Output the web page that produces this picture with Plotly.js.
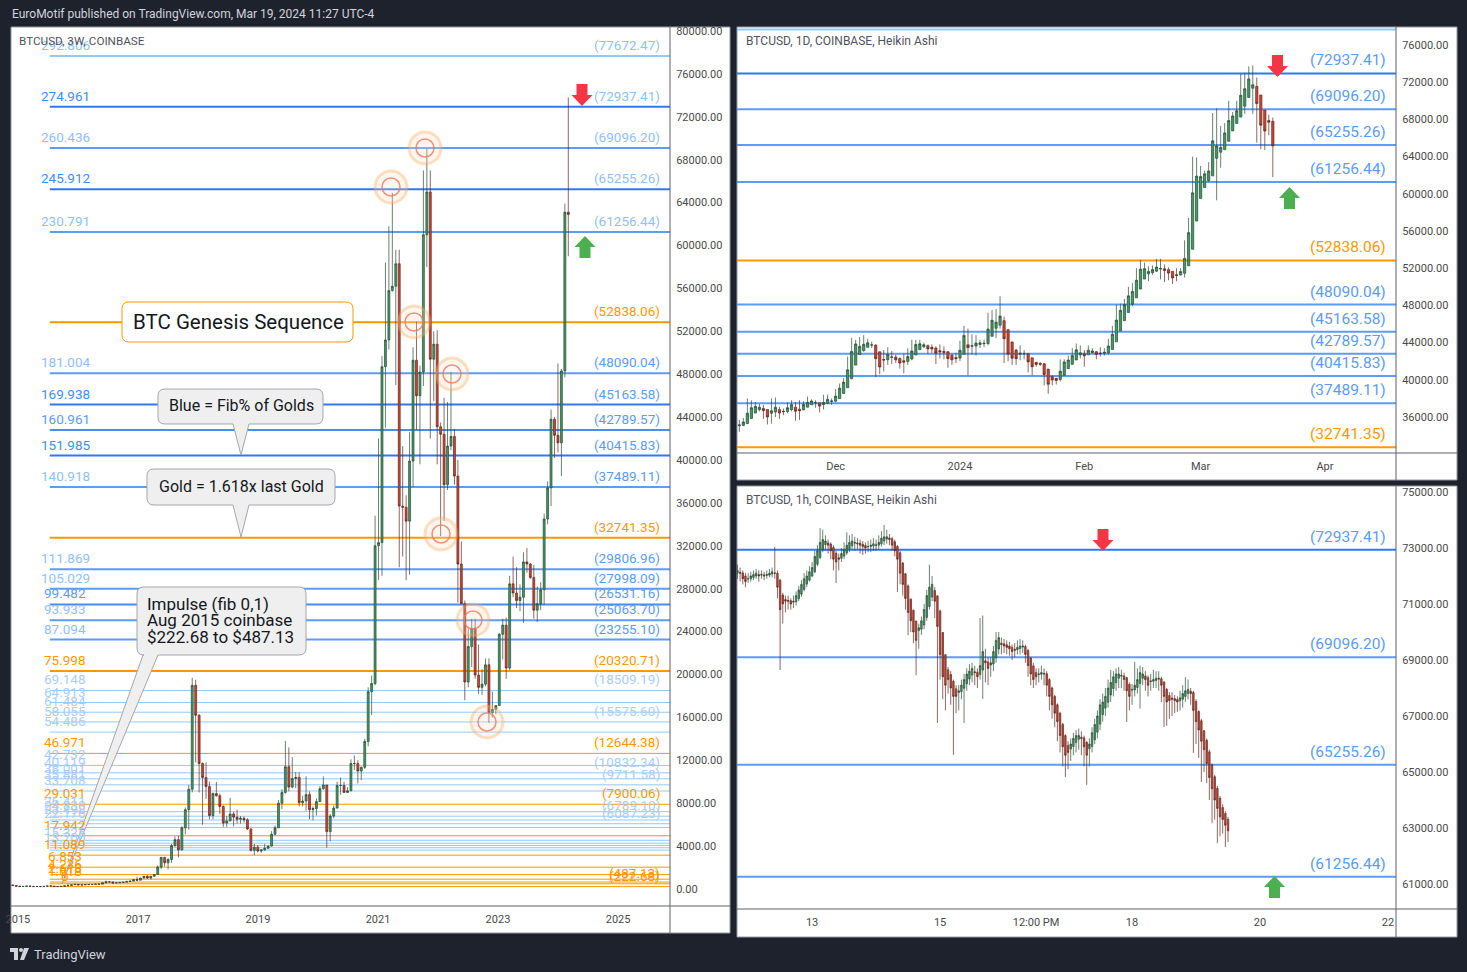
<!DOCTYPE html>
<html><head><meta charset="utf-8">
<script src="https://cdn.plot.ly/plotly-3.0.1.min.js"></script>
<style>html,body{margin:0;padding:0;background:#1e222d;overflow:hidden}#chart{width:1467px;height:972px}</style>
</head><body><div id="chart"></div>
<script>
// ===================== DATA =====================
// 3W candles (BTCUSD Coinbase), first bar opens 2014-12-01, one bar every 21 days
const w3Start = '2014-12-01';
const w3Open = [378,322,268,233,240,275,246,225,237,225,247,288,280,228,240,245,292,325,395,432,385,378,420,415,425,455,450,580,660,655,575,580,608,635,710,735,890,
820,1020,1180,1030,1190,1350,2050,2950,2450,2750,4050,4600,3650,5700,7400,9300,19000,16200,11700,10400,9550,6850,8900,8700,7700,6150,6350,7000,6700,6500,6600,6450,5600,3600,3900,3550,3650,3800,4000,5100,5700,8000,9000,11400,9500,10300,10400,8050,8200,8800,7400,7500,8150,9350,9700,5350,6800,7550,9650,9650,9000,9150,11700,11700,11000,11350,13750,18400,19150,32000,32300,48700,51200,55800,56200,58300,35700,35600,34300,39900,49300,46000,48200,61000,65000,49400,50800,43100,42400,37700,41300,42200,38500,30300,26600,19300,22600,24300,19950,18800,19100,20900,16450,16750,17100,23750,24600,20600,28450,27600,26900,27200,30500,30300,29050,26000,26600,27900,34500,37400,43800,42300,41600,48300,63100];
const w3High = [385,335,300,265,300,295,260,245,245,252,300,300,285,250,250,300,500,400,470,465,400,445,425,430,465,460,600,780,700,655,590,615,640,720,760,900,1150,
1040,1200,1290,1200,1360,2200,2990,2990,2900,4200,4900,4950,5850,7600,9700,19700,19500,16300,11800,11800,10000,9000,9980,8900,7800,6800,8500,7200,7400,6800,6750,6600,5650,4200,4100,3650,4200,4050,5400,5900,8300,9300,13800,13200,12300,10900,10900,8700,10500,9100,7700,8450,9600,10500,9700,7000,7800,10000,10400,10000,9500,12100,12450,12000,11400,14000,18800,19900,34800,42000,49700,58400,61800,64900,59600,59600,41300,36700,42600,50500,52900,48800,67000,69000,67000,52000,52100,43500,45800,45400,48200,42900,40000,32400,26900,24300,25200,25200,22800,20500,21500,21500,18400,17100,23900,25200,25300,29200,31000,30000,28400,31400,31800,30400,30200,28200,28600,35000,38000,44700,44000,49000,48500,63900,73800];
const w3Low = [310,262,165,212,235,240,215,215,220,218,245,260,195,225,225,240,290,315,380,355,365,375,400,410,420,440,450,540,640,480,560,570,605,630,690,730,750,
820,980,940,890,1160,1340,1850,2100,1830,2450,3900,2950,3600,5100,5550,9000,11800,9000,6000,8400,6500,6500,8600,7000,5800,5800,6300,5850,6100,6100,6200,5500,3500,3150,3400,3350,3550,3700,3950,5000,5700,7450,8900,9100,9400,9400,7700,7700,7300,6500,6400,6850,8100,9250,3850,4450,6600,7500,8800,8950,8950,9150,11100,9850,10150,11200,13300,16200,19000,28800,29200,43000,50300,55700,47000,30000,31000,28800,29300,37500,42800,39600,46900,58000,42000,45500,39600,32900,34300,37200,40900,37700,26700,26600,17600,18800,20700,19600,18200,18100,18900,15500,16000,16300,17100,21400,19600,20400,27200,26200,25900,24800,29500,28900,25200,24900,26000,26500,34000,35700,40200,40700,38500,47700,59000];
const w3Close = [322,268,233,240,275,246,225,237,225,247,288,280,228,240,245,292,325,395,432,385,378,420,415,425,455,450,580,660,655,575,580,608,635,710,735,890,820,
1020,1180,1030,1190,1350,2050,2950,2450,2750,4050,4600,3650,5700,7400,9300,19000,16200,11700,10400,9550,6850,8900,8700,7700,6150,6350,7000,6700,6500,6600,6450,5600,3600,3900,3550,3650,3800,4000,5100,5700,8000,9000,11400,9500,10300,10400,8050,8200,8800,7400,7500,8150,9350,9700,5350,6800,7550,9650,9650,9000,9150,11700,11700,11000,11350,13750,18400,19150,32000,32300,48700,51200,55800,56200,58300,35700,35600,34300,39900,49300,46000,48200,61000,65000,49400,50800,43100,42400,37700,41300,42200,38500,30300,26600,19300,22600,24300,19950,18800,19100,20900,16450,16750,17100,23750,24600,20600,28450,27600,26900,27200,30500,30300,29050,26000,26600,27900,34500,37400,43800,42300,41600,48300,63100,62900];

// 1D Heikin Ashi candles, first bar 2023-11-07, daily
const dStart = '2023-11-07';
const dOpen = [35050,35100,35290,35840,36420,36790,36920,36800,36400,36540,36800,36610,36590,36800,37060,36840,36760,37060,37320,37520,37520,37350,37450,37675,
37700,37975,38540,39145,40110,41580,42715,43160,43490,43730,43740,43010,42190,42160,42455,42440,42300,42050,41975,42240,42670,43235,43555,43665,43495,43410,43130,43065,43010,42640,42395,
42335,42755,43765,43610,43630,43790,43880,43900,44675,45540,45870,46360,45390,44070,43200,42740,42795,42800,42360,41880,41765,41720,41150,40340,40160,40040,40480,41200,41660,42130,42680,
42790,42680,42930,43015,42870,42850,42900,43260,44080,45250,46360,47230,48130,48815,49760,50830,51390,51520,51685,51905,51940,51845,51660,51300,51260,51450,52250,54040,57070,
59485,60670,61410,61930,63815,64480,64740,65645,66760,67570,68250,69425,70360,71355,71540,70620,69000,67875,67790];
const dHigh = [35700,35900,38000,37800,37600,37400,37300,36800,38000,38100,37100,36900,37600,37800,37600,37800,37700,38200,37900,37800,37520,38400,38400,38000,
39000,39600,40200,42500,44500,44300,44600,44800,44400,44100,43800,43010,43200,43500,43100,42700,42400,42800,43400,44300,44300,44300,44000,43800,43800,43600,43800,43600,43100,42800,42900,
44200,45800,45500,44900,44800,44300,44300,47200,47500,47600,49000,46800,45390,44070,43300,43700,43200,42900,42360,41900,41900,41800,41150,40500,40200,42200,42200,42600,43400,43900,43700,
43200,43700,43400,43100,43500,43400,44400,45800,48100,48200,48700,50000,50400,52000,52900,52600,52200,52300,53000,53000,52400,52100,51660,52000,52000,55000,57400,64000,63900,
63000,62500,63400,68700,69200,67300,67600,70000,68800,70000,72900,73000,73700,73800,72500,70620,69000,68500,68200];
const dLow = [34400,35000,35290,35840,36420,36600,35800,35200,35300,36000,35800,36200,36400,36600,35600,35700,36760,37060,37320,37000,36500,36800,37450,37300,
37600,37975,38540,39145,40110,41580,42700,43000,43490,43400,40300,40600,40900,41600,41700,41800,41200,40700,41600,42100,42670,43235,43400,42800,42900,41700,42300,42200,41300,41600,41800,
42000,42755,40500,42700,42600,43400,43500,43700,44675,44500,45500,41800,42000,41600,41600,42100,42200,40800,40500,41400,41500,39400,38500,39400,39500,39800,40480,41200,41660,42130,42300,
41400,42680,42800,42200,42500,42600,42700,43260,44080,45250,46360,47230,47900,48800,49760,50830,50600,51300,51600,50800,50500,50700,50300,50600,51260,51000,52250,54040,57070,
59485,60670,61300,61930,59300,62800,64740,65645,66760,67570,68250,68600,70360,68600,65500,64800,64700,66300,61800];
const dClose = [35150,35475,36400,37000,37150,37050,36675,36000,36675,37050,36425,36575,37000,37325,36625,36675,37350,37575,37725,37525,37175,37550,37900,37725,
38250,39100,39750,41075,43050,43850,43600,43825,43975,43750,42275,41375,42125,42750,42425,42150,41800,41900,42500,43100,43800,43875,43775,43325,43325,42850,43000,42950,42275,42150,42275,
43175,44775,43450,43650,43950,43975,43925,45450,46400,46200,46850,44425,42750,42325,42275,42850,42800,41925,41400,41650,41675,40575,39525,39975,39925,40925,41925,42125,42600,43225,42900,
42575,43175,43100,42725,42825,42950,43625,44900,46425,47475,48100,49025,49500,50700,51900,51950,51650,51850,52125,51975,51750,51475,50950,51225,51650,53050,55825,60100,61900,
61850,62150,62450,65700,65150,65000,66550,67875,68375,68925,70600,71300,72350,71725,69700,67375,66750,67700,65150];

// 1h Heikin Ashi candles, first bar 2024-03-11 20:00, hourly
const hStart = '2024-03-11T20:00';
const hOpen = [72100,72130,72110,72000,71900,71900,71950,72000,72050,72030,72040,72020,72030,72070,72110,72100,71850,71320,71160,71130,71120,71060,71080,71190,71350,71520,71710,71850,
72000,72150,72420,72660,72930,73120,73180,73140,73020,72810,72650,72630,72710,72830,72970,73080,73170,73180,73170,73130,73090,73050,73050,73070,
73110,73100,73150,73250,73320,73360,73330,73220,73060,72830,72460,72080,71640,71170,70780,70390,70050,70100,70250,70520,70910,71250,71480,71290,
70750,69980,69190,68650,68480,68240,67970,67840,67870,67990,68150,68320,68460,68580,68560,68480,68640,68970,68930,68820,68860,69080,69390,69600,
69580,69540,69500,69450,69380,69370,69410,69460,69480,69340,69070,68790,68550,68480,68490,68520,68510,68300,68000,67700,67400,67100,66700,66300,
65950,65820,65910,66050,66170,66240,66220,66060,65830,65910,66150,66420,66710,67050,67280,67490,67750,67980,68190,68350,68420,68430,68370,68130,
67920,67930,68020,68160,68350,68430,68370,68230,68240,68270,68310,68330,68210,67950,67730,67640,67620,67590,67540,67600,67700,67800,67880,67840,
67520,67160,66830,66470,66130,65720,65260,64830,64420,64060,63730,63520,63310];
const hHigh = [72400,72300,72200,72100,72100,72150,72200,72250,72200,72200,72150,72200,72250,72300,73040,72200,71900,71400,71300,71300,71200,71300,71450,71650,71850,72100,72200,72350,
72500,72900,73100,73710,73650,73450,73300,73200,73100,72900,72800,73000,73200,73560,73450,73500,73400,73350,73300,73250,73200,73250,73300,73350,
73300,73450,73600,73820,73650,73500,73400,73300,73100,72900,72500,72100,71700,71200,70800,70400,70300,70550,71000,71500,72400,72000,71600,71300,
70800,70000,69200,68750,68600,68300,68100,68100,68300,68500,68700,68850,68900,68800,68700,70500,70590,69400,69100,69100,69500,70000,70000,69800,
69750,69700,69650,69550,69600,69700,69750,69700,69550,69400,69100,68900,68700,68700,68800,68700,68600,68350,68050,67750,67450,67150,66750,66350,
66100,66200,66400,66500,66550,66450,66300,66100,66200,66600,66900,67200,67600,67800,68000,68300,68640,68600,68700,68750,68650,68550,68400,68200,
68150,68930,68700,68800,68750,68600,68450,68500,68650,68600,68600,68400,68250,68000,67850,67850,67750,67700,67900,68100,68390,68300,68000,67900,
67600,67200,66900,66500,66200,65800,65300,64900,64500,64150,63850,63600,63400];
const hLow = [71900,71800,71700,71600,71750,71800,71850,71900,71800,71900,71850,71900,71950,71950,71900,71200,68640,70300,70700,70800,70800,70850,70950,71100,71250,71450,71600,71800,
71950,72100,72350,72600,72850,72900,72800,72600,72200,71750,72200,72500,72600,72750,72850,72950,72900,72950,72800,72750,72800,72850,72850,72900,
72900,72950,73050,73100,73150,73100,72900,72700,71430,71700,71300,70800,69890,70000,69600,68460,69400,69900,70100,70400,70800,71100,70500,66750,
68300,67600,67200,67800,67400,65610,67100,67200,67600,66750,67900,68100,68200,68100,68000,68300,67610,68200,68100,68400,68600,68900,69200,69200,
69250,69200,69150,69000,69100,69200,69200,69250,68900,68400,68100,68000,68100,68200,68300,68100,67700,67200,66900,66600,66100,65700,65200,64820,
65100,65400,65600,65700,65800,65600,65200,64540,65200,65700,66000,66200,66500,66800,67000,67300,67500,67700,67900,68000,68000,67900,66790,67200,
67400,67700,67800,67260,68100,67900,67700,67900,68000,68000,67900,67500,66610,66650,66900,67000,67100,67150,67200,67300,67500,67600,67400,65680,
66000,65500,64640,65000,64600,64000,63170,63300,62460,62700,62800,62320,62500];
const hClose = [72200,72100,71900,71800,71900,72000,72050,72100,72000,72050,72000,72050,72100,72150,72100,71600,70800,71000,71100,71100,71000,71100,71300,71500,71700,71900,72000,72150,
72300,72700,72900,73200,73300,73250,73100,72900,72600,72500,72600,72800,72950,73100,73200,73250,73200,73150,73100,73050,73000,73050,73100,73150,
73100,73200,73350,73400,73400,73300,73100,72900,72600,72100,71700,71200,70700,70400,70000,69700,70150,70400,70800,71300,71600,71700,71100,70200,
69200,68400,68100,68300,68000,67700,67700,67900,68100,68300,68500,68600,68700,68550,68400,68800,69300,68900,68700,68900,69300,69700,69800,69550,
69500,69450,69400,69300,69350,69450,69500,69500,69200,68800,68500,68300,68400,68500,68550,68500,68100,67700,67400,67100,66800,66300,65900,65600,
65700,66000,66200,66300,66300,66200,65900,65600,66000,66400,66700,67000,67400,67500,67700,68000,68200,68400,68500,68500,68450,68300,67900,67700,
67950,68100,68300,68550,68500,68300,68100,68250,68300,68350,68350,68100,67700,67500,67550,67600,67550,67500,67650,67800,67900,67950,67800,67200,
66800,66500,66100,65800,65300,64800,64400,64000,63700,63400,63300,63100,62900];

// Fibonacci levels on the 3W chart (price, ratio label, kind, has right price label)
const fibPrice = [77672.47,72937.41,69096.20,65255.26,61256.44,52838.06,48090.04,45163.58,42789.57,40415.83,37489.11,32741.35,29806.96,27998.09,26531.16,25063.70,23255.10,20320.71,18509.19,17389.00,16482.10,15575.60,14631.50,12644.38,11523.20,10832.34,10272.10,9711.58,9136.80,7900.06,7207.10,6789.10,6436.70,6087.23,5730.00,4967.50,4539.80,4275.40,4061.00,3845.60,3626.00,3155.20,2035.00,1342.90,915.00,650.60,487.13,222.68];
const fibRatio = ['292.806','274.961','260.436','245.912','230.791','','181.004','169.938','160.961','151.985','140.918','','111.869','105.029','99.482','93.933','87.094','75.998','69.148','64.913','61.484','58.055','54.486','46.971','42.732','40.119','38.001','35.881','33.708','29.031','26.411','24.830','23.498','22.176','','17.942','','15.325','','13.700','','11.089','6.853','4.236','2.618','1.618','1','0'];
const fibKind = ['T','S','L','S','L','G','L','S','M','S','L','G','L','L','M','L','L','G','V','V','V','V','V','G','V','V','V','V','V','G','V','V','V','V','V','G','V','V','V','V','V','G','G','G','G','G','G','G'];
const fibRight = [1,1,1,1,1,1,1,1,1,1,1,1,1,1,1,1,1,1,1,0,0,1,0,1,0,1,0,1,0,1,0,1,0,1,0,0,0,0,0,0,0,0,0,0,0,0,1,1];

// levels on the 1D chart and on the 1h chart
const dayLevels = [77672.47,72937.41,69096.20,65255.26,61256.44,52838.06,48090.04,45163.58,42789.57,40415.83,37489.11,32741.35];
const dayKinds  = ['T','S','L','L','L','G','L','L','L','L','L','G'];
const hourLevels = [72937.41,69096.20,65255.26,61256.44];
const hourKinds  = ['S','L','L','L'];

// axis tick labels
const w3TickVals = ['2015-01-01','2017-01-01','2019-01-01','2021-01-01','2023-01-01','2025-01-01'];
const w3TickText = ['2015','2017','2019','2021','2023','2025'];
const dTickVals = ['2023-12-01','2024-01-01','2024-02-01','2024-03-01','2024-04-01'];
const dTickText = ['Dec','2024','Feb','Mar','Apr'];
const hTickVals = ['2024-03-13','2024-03-15','2024-03-16 12:00','2024-03-18','2024-03-20','2024-03-22'];
const hTickText = ['13','15','12:00 PM','18','20','22'];

// ===================== BUILD =====================
const W = 1467, H = 972;
const P = (x, y) => (x / W).toFixed(5) + ',' + (1 - y / H).toFixed(5);
const px = x => x / W, py = y => 1 - y / H;
const FONT = 'Roboto, "Liberation Sans", Arial, sans-serif';
const GOLD = '#ff9800';

function dates(start, n, stepMs) {
  const t0 = Date.parse(start + (start.length <= 10 ? 'T00:00:00Z' : ':00Z'));
  const out = [];
  for (let i = 0; i < n; i++) out.push(new Date(t0 + i * stepMs).toISOString().slice(0, 16).replace('T', ' '));
  return out;
}
const DAY = 86400000;
const w3X = dates(w3Start, w3Close.length, 21 * DAY);
const dX = dates(dStart, dClose.length, DAY);
const hX = dates(hStart, hClose.length, 3600000);

function candle(x, o, h, l, c, xa, ya) {
  return {type: 'candlestick', x: x, open: o, high: h, low: l, close: c, xaxis: xa, yaxis: ya,
    increasing: {line: {color: '#2a4a35', width: 0.7}, fillcolor: '#3f9a63'},
    decreasing: {line: {color: '#5a2820', width: 0.7}, fillcolor: '#d8412d'},
    whiskerwidth: 0, hoverinfo: 'skip', showlegend: false};
}
const traces = [
  candle(w3X, w3Open, w3High, w3Low, w3Close, 'x', 'y'),
  candle(dX, dOpen, dHigh, dLow, dClose, 'x2', 'y2'),
  candle(hX, hOpen, hHigh, hLow, hClose, 'x3', 'y3')
];

const shapes = [], ann = [];
// panels
[[11, 27, 730, 933], [737, 27, 1457, 480], [737, 486, 1457, 937]].forEach(r => {
  shapes.push({type: 'rect', xref: 'paper', yref: 'paper', x0: px(r[0]), x1: px(r[2]), y0: py(r[3]), y1: py(r[1]),
    fillcolor: '#ffffff', line: {color: '#9598a1', width: 1}, layer: 'below'});
});
// separators
[[670, 27, 670, 933], [11, 906, 730, 906], [1396, 27, 1396, 480], [737, 453, 1457, 453], [1396, 486, 1396, 937], [737, 909, 1457, 909]].forEach(s => {
  shapes.push({type: 'line', xref: 'paper', yref: 'paper', x0: px(s[0]), x1: px(s[2]), y0: py(s[1]), y1: py(s[3]),
    line: {color: '#5d606b', width: 1}, layer: 'above'});
});

const lineCol = {T: '#90caf9', S: '#2f78f0', M: '#4a8cf5', L: '#5b9cf6', V: '#90caf9', G: GOLD};
const leftCol = {T: '#90bff9', S: '#3d8ef5', M: '#5b9cf6', L: '#90bff9', V: '#a9cdf8', G: GOLD};

// 3W chart levels
fibPrice.forEach((p, i) => {
  const k = fibKind[i];
  shapes.push({type: 'line', xref: 'x', yref: 'y', x0: '2015-07-14', x1: '2026-12-31', y0: p, y1: p,
    line: {color: lineCol[k], width: p >= 19000 ? 2 : 1}, layer: 'below'});
  if (fibRatio[i]) ann.push({xref: 'paper', yref: 'y', x: px(65), y: p, yshift: 11, xanchor: 'center', yanchor: 'middle',
    text: fibRatio[i], showarrow: false, font: {family: FONT, size: 13.5, color: leftCol[k]}});
  if (fibRight[i]) {
    const c = k === 'G' ? GOLD : (p > 50000 ? '#90bff9' : (p >= 20000 ? '#5b9cf6' : '#a9cdf8'));
    ann.push({xref: 'x domain', yref: 'y', x: 1, xshift: -8, y: p, yshift: 11, xanchor: 'right', yanchor: 'middle',
      text: '(' + p.toFixed(2) + ')', showarrow: false, font: {family: FONT, size: 13.5, color: c}});
  }
});
// 1D levels
dayLevels.forEach((p, i) => {
  const k = dayKinds[i];
  shapes.push({type: 'line', xref: 'x2 domain', yref: 'y2', x0: 0, x1: 1, y0: p, y1: p, line: {color: lineCol[k], width: 2}, layer: 'below'});
  if (k !== 'T') ann.push({xref: 'x2 domain', yref: 'y2', x: 1, xshift: -8, y: p, yshift: 13, xanchor: 'right', yanchor: 'middle',
    text: '(' + p.toFixed(2) + ')', showarrow: false, font: {family: FONT, size: 15.5, color: k === 'G' ? GOLD : '#5b9cf6'}});
});
// 1h levels
hourLevels.forEach((p, i) => {
  const k = hourKinds[i];
  shapes.push({type: 'line', xref: 'x3 domain', yref: 'y3', x0: 0, x1: 1, y0: p, y1: p, line: {color: lineCol[k], width: 2}, layer: 'below'});
  ann.push({xref: 'x3 domain', yref: 'y3', x: 1, xshift: -8, y: p, yshift: 13, xanchor: 'right', yanchor: 'middle',
    text: '(' + p.toFixed(2) + ')', showarrow: false, font: {family: FONT, size: 15.5, color: '#5b9cf6'}});
});

// callout boxes (pixel geometry)
function rrect(x0, y0, x1, y1, r, tail) {
  let s = 'M' + P(x0 + r, y0) + ' L' + P(x1 - r, y0) + ' Q' + P(x1, y0) + ' ' + P(x1, y0 + r) +
    ' L' + P(x1, y1 - r) + ' Q' + P(x1, y1) + ' ' + P(x1 - r, y1);
  if (tail) s += ' L' + P(tail[2], y1) + ' L' + P(tail[3], tail[4]) + ' L' + P(tail[0], y1);
  s += ' L' + P(x0 + r, y1) + ' Q' + P(x0, y1) + ' ' + P(x0, y1 - r) + ' L' + P(x0, y0 + r) + ' Q' + P(x0, y0) + ' ' + P(x0 + r, y0) + ' Z';
  return s;
}
shapes.push({type: 'path', xref: 'paper', yref: 'paper', path: rrect(122, 302, 353, 342, 7), fillcolor: '#ffffff', line: {color: GOLD, width: 1}});
shapes.push({type: 'path', xref: 'paper', yref: 'paper', path: rrect(158, 389, 323, 424, 7, [233, 0, 249, 241, 455]), fillcolor: '#efefef', line: {color: '#a3a6af', width: 1}});
shapes.push({type: 'path', xref: 'paper', yref: 'paper', path: rrect(147, 469, 335, 505, 7, [233, 0, 249, 241, 537]), fillcolor: '#efefef', line: {color: '#a3a6af', width: 1}});
shapes.push({type: 'path', xref: 'paper', yref: 'paper', path: rrect(137, 587, 306, 655, 7, [143, 0, 158, 62, 884]), fillcolor: '#efefef', line: {color: '#a3a6af', width: 1}});

const T = (x, y, text, size, color, xa, extra) => ann.push(Object.assign({xref: 'paper', yref: 'paper', x: px(x), y: py(y), text: text,
  showarrow: false, xanchor: xa || 'center', yanchor: 'middle', font: {family: FONT, size: size, color: color}}, extra || {}));
T(238, 322, 'BTC Genesis Sequence', 20.5, '#131722');
T(241, 406, 'Blue = Fib% of Golds', 16, '#131722');
T(241, 487, 'Gold = 1.618x last Gold', 16, '#131722');
T(145, 604, 'Impulse (fib 0,1)', 17, '#131722', 'left');
T(145, 620, 'Aug 2015 coinbase', 17, '#131722', 'left');
T(145, 637, '$222.68 to $487.13', 17, '#131722', 'left');

// highlighted swing points (rings)
[[391, 187], [425, 148], [414, 322], [452, 374], [441, 534], [473, 620], [487, 722]].forEach(c => {
  shapes.push({type: 'circle', xref: 'paper', yref: 'paper', x0: px(c[0] - 16), x1: px(c[0] + 16), y0: py(c[1] + 16), y1: py(c[1] - 16),
    line: {color: 'rgba(255,167,80,0.35)', width: 3}, fillcolor: 'rgba(255,220,190,0.25)'});
  shapes.push({type: 'circle', xref: 'paper', yref: 'paper', x0: px(c[0] - 9), x1: px(c[0] + 9), y0: py(c[1] + 9), y1: py(c[1] - 9),
    line: {color: 'rgba(240,120,90,0.8)', width: 1.5}, fillcolor: 'rgba(255,255,255,0)'});
});

// block arrows
function arrow(tx, ty, dir, hw, hh, sw, sl) {
  const d = dir; // +1 down arrow (tip at bottom), -1 up arrow
  return 'M' + P(tx - sw, ty - d * (hh + sl)) + ' L' + P(tx + sw, ty - d * (hh + sl)) + ' L' + P(tx + sw, ty - d * hh) +
    ' L' + P(tx + hw, ty - d * hh) + ' L' + P(tx, ty) + ' L' + P(tx - hw, ty - d * hh) + ' L' + P(tx - sw, ty - d * hh) + ' Z';
}
const RED = '#f23645', GREEN = '#4caf50';
[[582, 106, 1, RED], [585, 236, -1, GREEN], [1277.5, 77, 1, RED], [1289.5, 187, -1, GREEN], [1103, 551, 1, RED], [1274.5, 876, -1, GREEN]].forEach(a => {
  shapes.push({type: 'path', xref: 'paper', yref: 'paper', path: arrow(a[0], a[1], a[2], 10.5, 11, 5.5, 11), fillcolor: a[3], line: {width: 0}});
});

// headers
T(10, 14, 'EuroMotif published on TradingView.com, Mar 19, 2024 11:27 UTC-4', 12, '#d1d4dc', 'left');
T(17, 41, 'BTCUSD, 3W, COINBASE', 11.7, '#50535e', 'left');
T(744, 41, 'BTCUSD, 1D, COINBASE, Heikin Ashi', 12, '#50535e', 'left');
T(744, 500, 'BTCUSD, 1h, COINBASE, Heikin Ashi', 12, '#50535e', 'left');
T(32, 954, 'TradingView', 13, '#d1d4dc', 'left');
// TradingView logo
shapes.push({type: 'path', xref: 'paper', yref: 'paper', path: 'M' + P(10, 948) + ' L' + P(18, 948) + ' L' + P(18, 960) + ' L' + P(14, 960) + ' L' + P(14, 952) + ' L' + P(10, 952) + ' Z', fillcolor: '#d1d4dc', line: {width: 0}});
shapes.push({type: 'circle', xref: 'paper', yref: 'paper', x0: px(19), x1: px(23), y0: py(952), y1: py(948), fillcolor: '#d1d4dc', line: {width: 0}});
shapes.push({type: 'path', xref: 'paper', yref: 'paper', path: 'M' + P(24, 948) + ' L' + P(29, 948) + ' L' + P(24, 960) + ' L' + P(20, 960) + ' Z', fillcolor: '#d1d4dc', line: {width: 0}});

const tickFont = {family: FONT, size: 11, color: '#4a4a4a'};
function xAx(d0, d1, range, anchor, tv, tt) {
  return {domain: [px(d0), px(d1)], range: range, type: 'date', anchor: anchor, tickvals: tv, ticktext: tt,
    showgrid: false, zeroline: false, showline: false, ticks: 'outside', ticklen: 3, tickcolor: 'rgba(0,0,0,0)',
    tickfont: tickFont, rangeslider: {visible: false}, fixedrange: true};
}
function yAx(top, bottom, range, anchor, dtick, tick0) {
  return {domain: [py(bottom), py(top)], range: range, anchor: anchor, side: 'right', dtick: dtick, tick0: tick0, tickformat: '.2f',
    showgrid: false, zeroline: false, showline: false, ticks: 'outside', ticklen: 3, tickcolor: 'rgba(0,0,0,0)',
    tickfont: tickFont, fixedrange: true};
}
const layout = {
  width: W, height: H, margin: {l: 0, r: 0, t: 0, b: 0},
  paper_bgcolor: '#1e222d', plot_bgcolor: '#ffffff', showlegend: false, hovermode: false,
  font: {family: FONT}, boxgap: 0.2,
  xaxis: xAx(11, 670, ['2014-11-20', '2025-11-13'], 'y', w3TickVals, w3TickText),
  yaxis: yAx(27, 906, [-1585, 80373], 'x', 4000, 0),
  xaxis2: xAx(737, 1396, ['2023-11-06 10:00', '2024-04-18 17:00'], 'y2', dTickVals, dTickText),
  yaxis2: yAx(27, 453, [32129, 77935], 'x2', 4000, 0),
  xaxis3: xAx(737, 1396, ['2024-03-11 19:50', '2024-03-22 03:00'], 'y3', hTickVals, hTickText),
  yaxis3: yAx(486, 909, [60107, 75214], 'x3', 2000, 1000),
  shapes: shapes, annotations: ann
};
Plotly.newPlot('chart', traces, layout, {staticPlot: true, displayModeBar: false});
</script></body></html>
